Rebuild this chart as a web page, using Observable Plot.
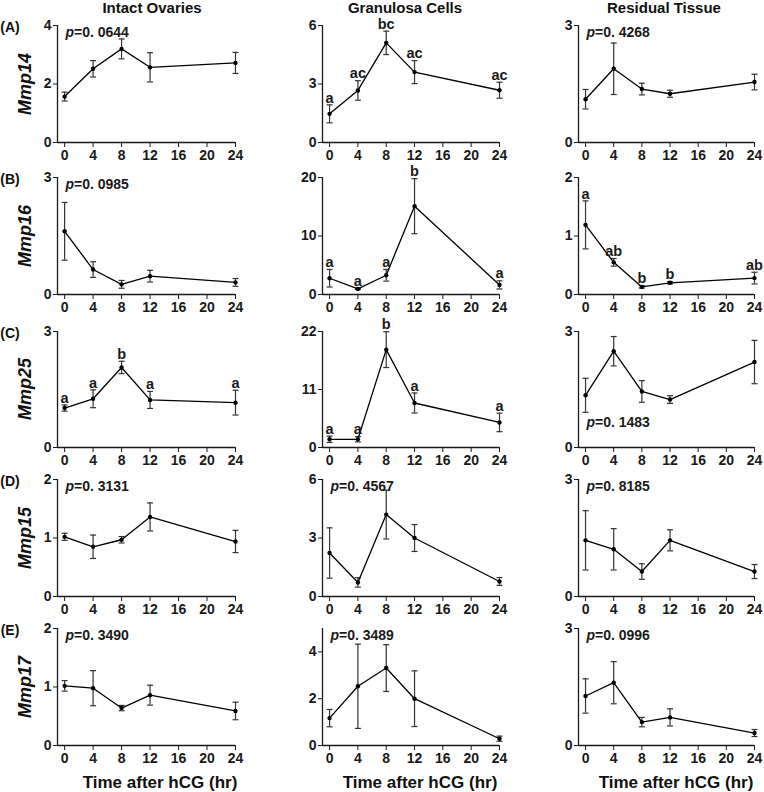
<!DOCTYPE html>
<html>
<head>
<meta charset="utf-8">
<script src="https://cdn.jsdelivr.net/npm/d3@7"></script>
<script src="https://cdn.jsdelivr.net/npm/@observablehq/plot@0.6"></script>
<style>
  body { margin: 0; background: #fff; }
  #root { position: relative; width: 764px; height: 792px; font-family: "Liberation Sans", Arial, sans-serif; color: #111; overflow: hidden; }
  .lbl { position: absolute; transform: translate(-50%, -50%); white-space: nowrap; font-weight: bold; }
  .panel { position: absolute; }
</style>
</head>
<body>
<div id="root"></div>
<script>
// ---------------- data ----------------
const times = [0, 4, 8, 12, 24];
const xTicks = [0, 4, 8, 12, 16, 20, 24];
const xDomain = [-1, 24];
const tissues = ["Intact Ovaries", "Granulosa Cells", "Residual Tissue"];
const genes = ["Mmp14", "Mmp16", "Mmp25", "Mmp15", "Mmp17"];
const panelLabels = ["(A)", "(B)", "(C)", "(D)", "(E)"];
const xTitle = "Time after hCG (hr)";

// means and SEM per gene: [intact ovaries, granulosa cells, residual tissue]
const mmp14Mean = [[1.57, 2.52, 3.20, 2.57, 2.72], [1.47, 2.67, 5.11, 3.61, 2.68], [1.11, 1.89, 1.37, 1.25, 1.55]];
const mmp14Err  = [[0.15, 0.28, 0.34, 0.50, 0.36], [0.46, 0.50, 0.60, 0.59, 0.41], [0.25, 0.66, 0.15, 0.09, 0.20]];
const mmp16Mean = [[1.62, 0.64, 0.26, 0.47, 0.31], [2.78, 0.96, 3.29, 15.1, 1.64], [1.19, 0.55, 0.13, 0.20, 0.28]];
const mmp16Err  = [[0.74, 0.20, 0.10, 0.15, 0.10], [1.50, 0.10, 1.00, 4.70, 0.70], [0.41, 0.065, 0.02, 0.02, 0.10]];
const mmp25Mean = [[1.02, 1.26, 2.07, 1.23, 1.16], [1.56, 1.56, 18.56, 8.44, 4.75], [1.35, 2.49, 1.45, 1.24, 2.21]];
const mmp25Err  = [[0.08, 0.23, 0.16, 0.22, 0.32], [0.60, 0.50, 3.40, 1.90, 1.75], [0.44, 0.38, 0.28, 0.10, 0.56]];
const mmp15Mean = [[1.02, 0.85, 0.97, 1.36, 0.94], [2.23, 0.72, 4.20, 3.00, 0.77], [1.44, 1.21, 0.64, 1.44, 0.64]];
const mmp15Err  = [[0.06, 0.20, 0.055, 0.24, 0.19], [1.29, 0.24, 1.25, 0.69, 0.20], [0.76, 0.53, 0.20, 0.27, 0.18]];
const mmp17Mean = [[1.02, 0.98, 0.64, 0.86, 0.59], [1.17, 2.53, 3.31, 2.00, 0.29], [1.27, 1.61, 0.60, 0.72, 0.32]];
const mmp17Err  = [[0.09, 0.30, 0.045, 0.17, 0.15], [0.37, 1.80, 1.00, 1.19, 0.11], [0.44, 0.54, 0.12, 0.22, 0.09]];

const yMax = [[4, 6, 3], [3, 20, 2], [3, 22, 3], [2, 6, 3], [2, 5, 3]];
const yTicks = [
  [[0, 2, 4], [0, 3, 6], [0, 3]],
  [[0, 3], [0, 10, 20], [0, 1, 2]],
  [[0, 3], [0, 11, 22], [0, 3]],
  [[0, 1, 2], [0, 3, 6], [0, 3]],
  [[0, 1, 2], [0, 2, 4], [0, 3]]
];
const pValues = [
  ["0. 0644", null, "0. 4268"],
  ["0. 0985", null, null],
  [null, null, "0. 1483"],
  ["0. 3131", "0. 4567", "0. 8185"],
  ["0. 3490", "0. 3489", "0. 0996"]
];
const letters = [
  [null, ["a", "ac", "bc", "ac", "ac"], null],
  [null, ["a", "a", "a", "b", "a"], ["a", "ab", "b", "b", "ab"]],
  [["a", "a", "b", "a", "a"], ["a", "a", "b", "a", "a"], null],
  [null, null, null],
  [null, null, null]
];

const means = [mmp14Mean, mmp16Mean, mmp25Mean, mmp15Mean, mmp17Mean];
const errs = [mmp14Err, mmp16Err, mmp25Err, mmp15Err, mmp17Err];

// ---------------- layout ----------------
const colFrame = [[57, 235], [322, 499], [578, 754]];
const rowFrame = [[25, 142], [177, 294], [331, 447], [479, 596], [628, 745]];
const mL = 32, mR = 10, mT = 22, mB = 26;
const FONT = '"Liberation Sans", Arial, sans-serif';
const INK = "#1a1a1a";

const root = document.getElementById("root");

function addLabel(html, x, y, size, extra) {
  const d = document.createElement("div");
  d.className = "lbl";
  d.innerHTML = html;
  d.style.left = x + "px";
  d.style.top = y + "px";
  d.style.fontSize = size + "px";
  if (extra) Object.assign(d.style, extra);
  root.appendChild(d);
}

const capSymbol = {
  draw(ctx) { ctx.moveTo(-3, 0); ctx.lineTo(3, 0); }
};

for (let r = 0; r < genes.length; r++) {
  for (let c = 0; c < tissues.length; c++) {
    const data = times.map((t, i) => ({
      t,
      m: means[r][c][i],
      e: errs[r][c][i],
      lab: letters[r][c] ? letters[r][c][i] : null
    }));
    const [x0, x1] = colFrame[c];
    const [y0, y1] = rowFrame[r];
    const width = (x1 - x0) + mL + mR;
    const height = (y1 - y0) + mT + mB;
    const marks = [
      Plot.ruleY([0], {stroke: INK, strokeWidth: 1.3}),
      Plot.ruleX([xDomain[0]], {stroke: INK, strokeWidth: 1.3}),
      Plot.ruleX(data, {x: "t", y1: d => d.m - d.e, y2: d => d.m + d.e, stroke: "#333", strokeWidth: 1.2}),
      Plot.dot(data, {x: "t", y: d => d.m + d.e, symbol: capSymbol, fill: "none", stroke: "#333", strokeWidth: 1.2}),
      Plot.dot(data, {x: "t", y: d => d.m - d.e, symbol: capSymbol, fill: "none", stroke: "#333", strokeWidth: 1.2}),
      Plot.line(data, {x: "t", y: "m", stroke: "#000", strokeWidth: 1.3}),
      Plot.dot(data, {x: "t", y: "m", r: 2.2, fill: "#000"})
    ];
    if (letters[r][c]) {
      marks.push(Plot.text(data, {x: "t", y: d => d.m + d.e, text: "lab", dy: -7, fontSize: 14.5, fontWeight: "bold", fill: INK}));
    }
    const pv = pValues[r][c];
    if (pv) {
      const bottom = (r === 2 && c === 2);
      const anchor = bottom ? "bottom-left" : "top-left";
      const dy = bottom ? -25 : 7;
      marks.push(Plot.text([pv], {frameAnchor: anchor, text: d => "p", dx: 8, dy, textAnchor: "start", lineAnchor: "middle", fontSize: 14, fontStyle: "italic", fontWeight: "bold", fill: INK}));
      marks.push(Plot.text([pv], {frameAnchor: anchor, text: d => "=" + d, dx: 16.5, dy, textAnchor: "start", lineAnchor: "middle", fontSize: 14, fontWeight: "bold", fill: INK}));
    }
    const chart = Plot.plot({
      width, height,
      marginLeft: mL, marginRight: mR, marginTop: mT, marginBottom: mB,
      x: {domain: xDomain, ticks: xTicks, tickSize: 5, tickPadding: 3, label: null, tickFormat: d => String(d)},
      y: {domain: [0, yMax[r][c]], ticks: yTicks[r][c], tickSize: 4, tickPadding: 2, label: null, tickFormat: d => String(d)},
      style: {fontFamily: FONT, fontSize: "14px", fontWeight: "bold", color: INK, background: "transparent", overflow: "visible"},
      marks
    });
    chart.classList.add("panel");
    chart.style.left = (x0 - mL) + "px";
    chart.style.top = (y0 - mT) + "px";
    root.appendChild(chart);
  }
}

// column titles
const titleX = [152, 405, 664];
tissues.forEach((t, c) => addLabel(t, titleX[c], 7, 15));
// row labels and gene names
genes.forEach((g, r) => {
  const [y0, y1] = rowFrame[r];
  addLabel(panelLabels[r], 10, y0 + 2, 14);
  addLabel(g, 25, (y0 + y1) / 2, 18, {transform: "translate(-50%, -50%) rotate(-90deg)", fontStyle: "italic"});
});
// x titles
const xTitleX = [160, 420, 676];
xTitleX.forEach(x => addLabel(xTitle, x, 783, 17));
</script>
</body>
</html>
